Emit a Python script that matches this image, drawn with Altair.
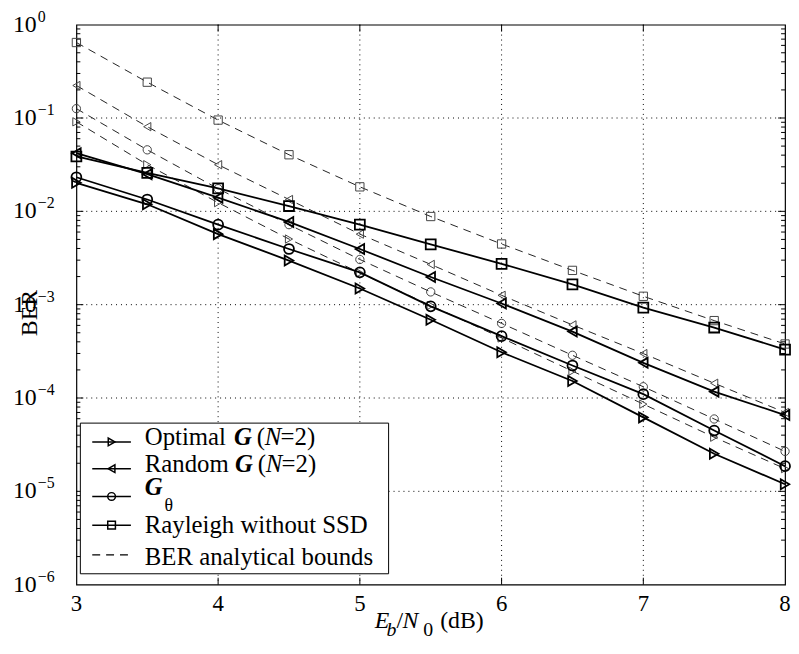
import altair as alt
import pandas as pd

# ---------------- data ----------------
ebn0 = [3, 3.5, 4, 4.5, 5, 5.5, 6, 6.5, 7, 7.5, 8]

optimal_sim = [2.02e-2, 1.19e-2, 5.7e-3, 2.97e-3, 1.49e-3, 6.9e-4, 3.09e-4, 1.52e-4, 6.2e-5, 2.53e-5, 1.19e-5]
random_sim = [4.2e-2, 2.5e-2, 1.4e-2, 7.7e-3, 3.95e-3, 1.98e-3, 1.03e-3, 5.15e-4, 2.38e-4, 1.17e-4, 6.57e-5]
gtheta_sim = [2.32e-2, 1.34e-2, 7.2e-3, 3.95e-3, 2.22e-3, 9.6e-4, 4.6e-4, 2.23e-4, 1.1e-4, 4.48e-5, 1.86e-5]
rayleigh_sim = [3.87e-2, 2.58e-2, 1.76e-2, 1.14e-2, 7.2e-3, 4.43e-3, 2.74e-3, 1.65e-3, 9.3e-4, 5.69e-4, 3.3e-4]

optimal_bound = [9.1e-2, 3.16e-2, 1.24e-2, 5.05e-3, 2.19e-3, 9.8e-4, 4.4e-4, 1.94e-4, 8.6e-5, 3.8e-5, 1.75e-5]
random_bound = [0.223, 8.07e-2, 3.16e-2, 1.34e-2, 5.7e-3, 2.7e-3, 1.26e-3, 6.07e-4, 2.99e-4, 1.44e-4, 7.0e-5]
gtheta_bound = [0.126, 4.56e-2, 1.75e-2, 7.2e-3, 3.05e-3, 1.37e-3, 6.3e-4, 2.87e-4, 1.32e-4, 5.96e-5, 2.68e-5]
rayleigh_bound = [0.644, 0.242, 9.5e-2, 4.04e-2, 1.83e-2, 8.8e-3, 4.47e-3, 2.33e-3, 1.23e-3, 6.75e-4, 3.79e-4]

series_names = ["optimal", "random", "gtheta", "rayleigh"]
series_shapes = ["triangle-right", "triangle-left", "circle", "square"]

x_ticks = [3, 4, 5, 6, 7, 8]
y_decades = [1e0, 1e-1, 1e-2, 1e-3, 1e-4, 1e-5, 1e-6]
y_exponents = ["0", "\u22121", "\u22122", "\u22123", "\u22124", "\u22125", "\u22126"]

# ---------------- build tables ----------------
sim_vals = [optimal_sim, random_sim, gtheta_sim, rayleigh_sim]
bnd_vals = [optimal_bound, random_bound, gtheta_bound, rayleigh_bound]
rows = []
for name, sv, bv in zip(series_names, sim_vals, bnd_vals):
    for x, s, b in zip(ebn0, sv, bv):
        rows.append({"x": x, "y": s, "series": name, "kind": "sim"})
        rows.append({"x": x, "y": b, "series": name, "kind": "bound"})
df = pd.DataFrame(rows)
sim_df = df[df.kind == "sim"]
bnd_df = df[df.kind == "bound"]

W, H = 715, 565
FONT = "Liberation Serif"

xs = alt.Scale(domain=[3, 8], nice=False, zero=False)
ys = alt.Scale(type="log", domain=[1e-6, 1], nice=False)
shape_scale = alt.Scale(domain=series_names, range=series_shapes)

X = alt.X("x:Q", scale=xs, axis=None)
Y = alt.Y("y:Q", scale=ys, axis=None)

one = pd.DataFrame({"a": [0]})

# grid
vgrid = alt.Chart(pd.DataFrame({"x": x_ticks[1:-1]})).mark_rule(
    color="black", strokeWidth=1, strokeDash=[1, 4]
).encode(x=X, y=alt.value(0), y2=alt.value(H))
hgrid = alt.Chart(pd.DataFrame({"y": y_decades[1:-1]})).mark_rule(
    color="black", strokeWidth=1, strokeDash=[1, 4]
).encode(y=Y, x=alt.value(0), x2=alt.value(W))

# ticks
minor_vals = [m * 10.0 ** k for k in range(-6, 0) for m in range(2, 10)]
minor_df = pd.DataFrame({"y": minor_vals})
major_y_df = pd.DataFrame({"y": y_decades[1:-1]})
major_x_df = pd.DataFrame({"x": x_ticks[1:-1]})
tick_layers = [
    alt.Chart(minor_df).mark_rule(color="black").encode(y=Y, x=alt.value(0), x2=alt.value(4)),
    alt.Chart(minor_df).mark_rule(color="black").encode(y=Y, x=alt.value(W - 4), x2=alt.value(W)),
    alt.Chart(major_y_df).mark_rule(color="black").encode(y=Y, x=alt.value(0), x2=alt.value(7)),
    alt.Chart(major_y_df).mark_rule(color="black").encode(y=Y, x=alt.value(W - 7), x2=alt.value(W)),
    alt.Chart(major_x_df).mark_rule(color="black").encode(x=X, y=alt.value(H - 7), y2=alt.value(H)),
    alt.Chart(major_x_df).mark_rule(color="black").encode(x=X, y=alt.value(0), y2=alt.value(7)),
]

# series
bound_lines = alt.Chart(bnd_df).mark_line(
    color="#222", strokeWidth=1, strokeDash=[8, 6]
).encode(x=X, y=Y, detail="series:N")
bound_pts = alt.Chart(bnd_df).mark_point(
    color="#444", strokeWidth=1, size=70, filled=False, opacity=1
).encode(x=X, y=Y, shape=alt.Shape("series:N", scale=shape_scale, legend=None))
sim_lines = alt.Chart(sim_df).mark_line(
    color="black", strokeWidth=1.8
).encode(x=X, y=Y, detail="series:N")
sim_pts = alt.Chart(sim_df).mark_point(
    color="black", strokeWidth=1.8, size=100, filled=False, opacity=1
).encode(x=X, y=Y, shape=alt.Shape("series:N", scale=shape_scale, legend=None))

# axis labels
xlab = alt.Chart(pd.DataFrame({"x": x_ticks})).mark_text(
    font=FONT, fontSize=23, color="black", baseline="alphabetic", align="center"
).encode(x=X, y=alt.value(H + 27), text=alt.Text("x:Q", format="d"))
ylab_df = pd.DataFrame({"y": y_decades, "e": y_exponents})
ylab10 = alt.Chart(ylab_df).mark_text(
    font=FONT, fontSize=24, color="black", baseline="alphabetic", align="left", dy=7
).encode(y=Y, x=alt.value(-64), text=alt.value("10"))
ylabexp = alt.Chart(ylab_df).mark_text(
    font=FONT, fontSize=16, color="black", baseline="alphabetic", align="left", dy=-3
).encode(y=Y, x=alt.value(-39), text="e:N")
ytitle = alt.Chart(one).mark_text(
    font=FONT, fontSize=24, color="black", angle=270, align="center", baseline="middle"
).encode(x=alt.value(-47), y=alt.value(291), text=alt.value("BER"))


def seg(text, x, y, size, style="normal", weight="normal"):
    return alt.Chart(one).mark_text(
        text=text, font=FONT, fontSize=size, fontStyle=style, fontWeight=weight,
        color="black", align="left", baseline="alphabetic"
    ).encode(x=alt.value(x), y=alt.value(y))


xtitle = [
    seg("E", 301, 609, 24, "italic"),
    seg("b", 313, 617, 20, "italic"),
    seg("/", 323, 609, 24),
    seg("N", 329, 609, 24, "italic"),
    seg("0", 350, 617, 20),
    seg("(dB)", 367, 609, 24),
]

# legend
legend_box = alt.Chart(one).mark_rect(
    fill="white", stroke="black", strokeWidth=1
).encode(x=alt.value(4), x2=alt.value(315), y=alt.value(402), y2=alt.value(554))

row_y = [421, 448, 476, 505, 535]
legend_marks = []
for i, shp in enumerate(series_shapes):
    legend_marks.append(
        alt.Chart(one).mark_rule(color="black", strokeWidth=1.5).encode(
            x=alt.value(16), x2=alt.value(55), y=alt.value(row_y[i]))
    )
    legend_marks.append(
        alt.Chart(one).mark_point(shape=shp, color="black", strokeWidth=1.5, size=60,
                                  filled=False, opacity=1).encode(
            x=alt.value(35.5), y=alt.value(row_y[i]))
    )
legend_marks.append(
    alt.Chart(one).mark_rule(color="black", strokeWidth=1.2, strokeDash=[8, 6]).encode(
        x=alt.value(16), x2=alt.value(55), y=alt.value(row_y[4]))
)

legend_text = [
    seg("Optimal", 69, 424, 25),
    seg("G", 159, 424, 25, "italic", "bold"),
    seg("(", 182, 424, 25),
    seg("N", 190, 424, 25, "italic"),
    seg("=2)", 206, 424, 25),
    seg("Random", 69, 451, 25),
    seg("G", 160, 451, 25, "italic", "bold"),
    seg("(", 183, 451, 25),
    seg("N", 191, 451, 25, "italic"),
    seg("=2)", 207, 451, 25),
    seg("G", 69, 475, 25, "italic", "bold"),
    seg("\u03b8", 89, 491, 18),
    seg("Rayleigh without SSD", 69, 513, 25),
    seg("BER analytical bounds", 69, 545, 25),
]

chart = alt.layer(
    vgrid, hgrid, *tick_layers,
    bound_lines, bound_pts, sim_lines, sim_pts,
    xlab, ylab10, ylabexp, ytitle, *xtitle,
    legend_box, *legend_marks, *legend_text,
).properties(
    width=W, height=H,
    autosize=alt.AutoSizeParams(type="none"),
    padding={"left": 69, "top": 14, "right": 6, "bottom": 53},
).configure_view(stroke="black", strokeWidth=1.2)

chart.save("out.html", embed_options={"renderer": "svg", "actions": False})
